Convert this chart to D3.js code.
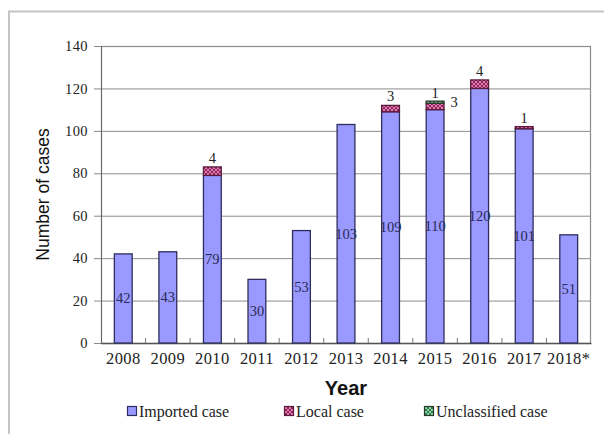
<!DOCTYPE html>
<html><head><meta charset="utf-8">
<script src="https://cdn.jsdelivr.net/npm/d3@7"></script>
<style>html,body{margin:0;padding:0;background:#fff;}</style>
</head><body>
<svg id="c" width="604" height="434"></svg>
<script>
const years = ["2008","2009","2010","2011","2012","2013","2014","2015","2016","2017","2018*"];
const imported = [42,43,79,30,53,103,109,110,120,101,51];
const local = [0,0,4,0,0,0,3,3,4,1,0];
const unclassified = [0,0,0,0,0,0,0,1,0,0,0];
const yTicks = [0,20,40,60,80,100,120,140];
const seriesNames = ["Imported case","Local case","Unclassified case"];

const svg = d3.select("#c");
const defs = svg.append("defs");
const pl = defs.append("pattern").attr("id","pLocal").attr("patternUnits","userSpaceOnUse").attr("width",4).attr("height",4);
pl.append("rect").attr("width",4).attr("height",4).attr("fill","#e67ab4");
pl.append("path").attr("d","M0,0L4,4M4,0L0,4").attr("stroke","#8b2a5a").attr("stroke-width",1);
const pu = defs.append("pattern").attr("id","pUnc").attr("patternUnits","userSpaceOnUse").attr("width",4).attr("height",4);
pu.append("rect").attr("width",4).attr("height",4).attr("fill","#8fd9a8");
pu.append("path").attr("d","M0,0L4,4M4,0L0,4").attr("stroke","#2f7a4f").attr("stroke-width",1);

// outer frame
svg.append("path").attr("d","M9,434V11.5H604").attr("fill","none").attr("stroke","#c4c4c4").attr("stroke-width",2);

const L=101, R=591, T=46, B=343;
const x = d3.scaleBand().domain(years).range([L,R]).paddingInner(0.6).paddingOuter(0.3);
const xb = d3.scaleBand().domain(years).range([L,R]);
const y = d3.scaleLinear().domain([0,140]).range([B,T]);
const lf = "'Liberation Serif','Times New Roman',serif";

// gridlines
svg.append("g").selectAll("line").data(yTicks.slice(1)).join("line")
  .attr("x1",L).attr("x2",R).attr("y1",d=>y(d)+0.5).attr("y2",d=>y(d)+0.5)
  .attr("stroke","#8c8c8c").attr("stroke-width",1);

// plot border
svg.append("rect").attr("x",L+0.5).attr("y",T+0.5).attr("width",R-L-1).attr("height",B-T)
  .attr("fill","none").attr("stroke","#8c8c8c").attr("stroke-width",1.2);

// y axis
const ya = svg.append("g").attr("transform",`translate(${L},0)`)
  .call(d3.axisLeft(y).tickValues(yTicks).tickSize(7).tickPadding(6));
ya.select(".domain").attr("stroke","#666");
ya.selectAll(".tick line").attr("stroke","#888");
ya.selectAll("text").attr("font-family",lf).attr("font-size",14.5).attr("letter-spacing",0.4).attr("fill","#222");

// x axis
const xa = svg.append("g").attr("transform",`translate(0,${B})`)
  .call(d3.axisBottom(xb).tickSize(0).tickPadding(9));
xa.select(".domain").attr("stroke","#555").attr("stroke-width",1.5);
xa.selectAll("text").attr("font-family",lf).attr("font-size",16.5).attr("letter-spacing",0.4).attr("fill","#222");
// boundary ticks inside
svg.append("g").selectAll("line").data(years.slice(1)).join("line")
  .attr("x1",d=>xb(d)).attr("x2",d=>xb(d)).attr("y1",B).attr("y2",B-5)
  .attr("stroke","#777");

// bars
const bw = x.bandwidth();
const stack = years.map((yr,i)=>({yr, imp:imported[i], loc:local[i], unc:unclassified[i]}));
const g = svg.append("g");
g.selectAll("rect.imp").data(stack).join("rect").attr("class","imp")
  .attr("x",d=>x(d.yr)).attr("width",bw)
  .attr("y",d=>y(d.imp)).attr("height",d=>y(0)-y(d.imp))
  .attr("fill","#9999ff").attr("stroke","#2e2e5e").attr("stroke-width",1.3);
g.selectAll("rect.loc").data(stack.filter(d=>d.loc>0)).join("rect").attr("class","loc")
  .attr("x",d=>x(d.yr)).attr("width",bw)
  .attr("y",d=>y(d.imp+d.loc)).attr("height",d=>y(d.imp)-y(d.imp+d.loc))
  .attr("fill","url(#pLocal)").attr("stroke","#5a1a3a").attr("stroke-width",1.3);
g.selectAll("rect.unc").data(stack.filter(d=>d.unc>0)).join("rect").attr("class","unc")
  .attr("x",d=>x(d.yr)).attr("width",bw)
  .attr("y",d=>y(d.imp+d.loc+d.unc)).attr("height",d=>y(d.imp+d.loc)-y(d.imp+d.loc+d.unc))
  .attr("fill","url(#pUnc)").attr("stroke","#2a3a2a").attr("stroke-width",1.3);

// value labels
g.selectAll("text.impl").data(stack).join("text").attr("class","impl")
  .attr("x",d=>x(d.yr)+bw/2).attr("y",d=>y(d.imp/2)+5)
  .attr("text-anchor","middle").attr("font-family",lf).attr("font-size",14.5).attr("fill","#2a2a55")
  .text(d=>d.imp);
g.selectAll("text.locl").data(stack.filter(d=>d.loc>0)).join("text").attr("class","locl")
  .attr("x",d=>d.unc>0 ? x(d.yr)+bw+10 : x(d.yr)+bw/2)
  .attr("y",d=>d.unc>0 ? y(d.imp+d.loc)+4 : y(d.imp+d.loc)-4)
  .attr("text-anchor","middle").attr("font-family",lf).attr("font-size",14.5).attr("fill","#222")
  .text(d=>d.loc);
g.selectAll("text.uncl").data(stack.filter(d=>d.unc>0)).join("text").attr("class","uncl")
  .attr("x",d=>x(d.yr)+bw/2).attr("y",d=>y(d.imp+d.loc+d.unc)-3)
  .attr("text-anchor","middle").attr("font-family",lf).attr("font-size",14.5).attr("fill","#222")
  .text(d=>d.unc);

// axis titles
svg.append("text").attr("transform",`translate(49,${(T+B)/2}) rotate(-90)`)
  .attr("text-anchor","middle").attr("font-family","'Liberation Sans',Arial,sans-serif")
  .attr("font-size",17.5).attr("fill","#111").text("Number of cases");
svg.append("text").attr("x",(L+R)/2).attr("y",395).attr("text-anchor","middle")
  .attr("font-family","'Liberation Sans',Arial,sans-serif").attr("font-weight","bold")
  .attr("font-size",20).attr("fill","#111").text("Year");

// legend
const legX = [127,284,424];
const legFill = ["#9999ff","url(#pLocal)","url(#pUnc)"];
const legStroke = ["#2e2e5e","#5a1a3a","#2a3a2a"];
const lg = svg.append("g");
seriesNames.forEach((n,i)=>{
  lg.append("rect").attr("x",legX[i]+0.5).attr("y",406.5).attr("width",9).attr("height",9)
    .attr("fill",legFill[i]).attr("stroke",legStroke[i]).attr("stroke-width",1.2);
  lg.append("text").attr("x",legX[i]+12).attr("y",416.5).attr("font-family",lf)
    .attr("font-size",16).attr("fill","#222").text(n);
});
</script>
</body></html>
